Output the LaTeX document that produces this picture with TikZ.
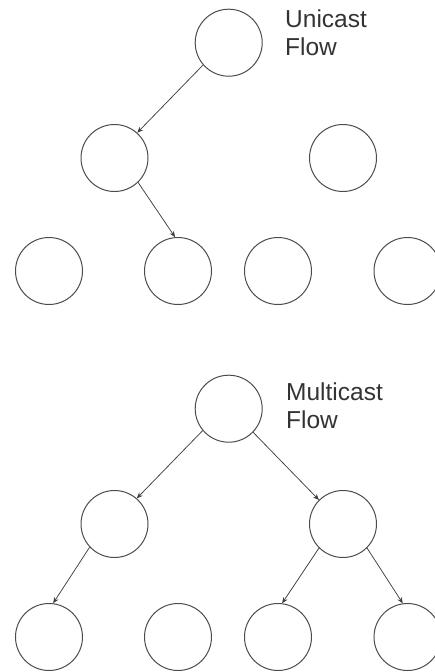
\documentclass[tikz,border=0pt]{standalone}
\usepackage{fontspec}
\setmainfont{Liberation Sans}
\usetikzlibrary{arrows.meta}
\tikzset{
    peer/.style={
        circle,
        minimum size=67pt,
        inner sep=0pt,
        line width=1pt,
        draw=black!70
    },
    flow/.style={
        -{Stealth[length=6pt,width=5pt]},
        line width=0.75pt,
        draw=black!75
    },
    caption/.style={
        anchor=base west,
        align=left,
        inner sep=0pt,
        text=black!80,
        font=\fontsize{24.5}{28}\selectfont
    }
}
\begin{document}
\begin{tikzpicture}[x=1pt,y=-1pt]
        \useasboundingbox (0,0) rectangle (435,672);
        % draw both trees of peers
        \foreach \t/\dy in {u/0,m/366} {
            \foreach \n/\x/\y in {0/228.7/42.7,1/114.5/158,2/343/158,
                3/49/271,4/178/271,5/278/271,6/407.5/271}
                \node[peer] (\t\n) at (\x,{\y+\dy}) {};
        }
        % labels (anchored on the baseline of the last line)
        \node[caption] (ulabel) at (285,55) {Unicast\\Flow};
        \node[caption] (mlabel) at (286,428) {Multicast\\Flow};
        % unicast path
        \draw[flow] (u0.221) -- (u1.48);
        \draw[flow] (u1.314) -- (u4.95);
        % multicast paths
        \draw[flow] (m0.220) -- (m1.49);
        \draw[flow] (m0.316) -- (m2.135);
        \draw[flow] (m1.223) -- (m3.83);
        \draw[flow] (m2.225) -- (m5.83);
        \draw[flow] (m2.315) -- (m6.98);
    \end{tikzpicture}
\end{document}
